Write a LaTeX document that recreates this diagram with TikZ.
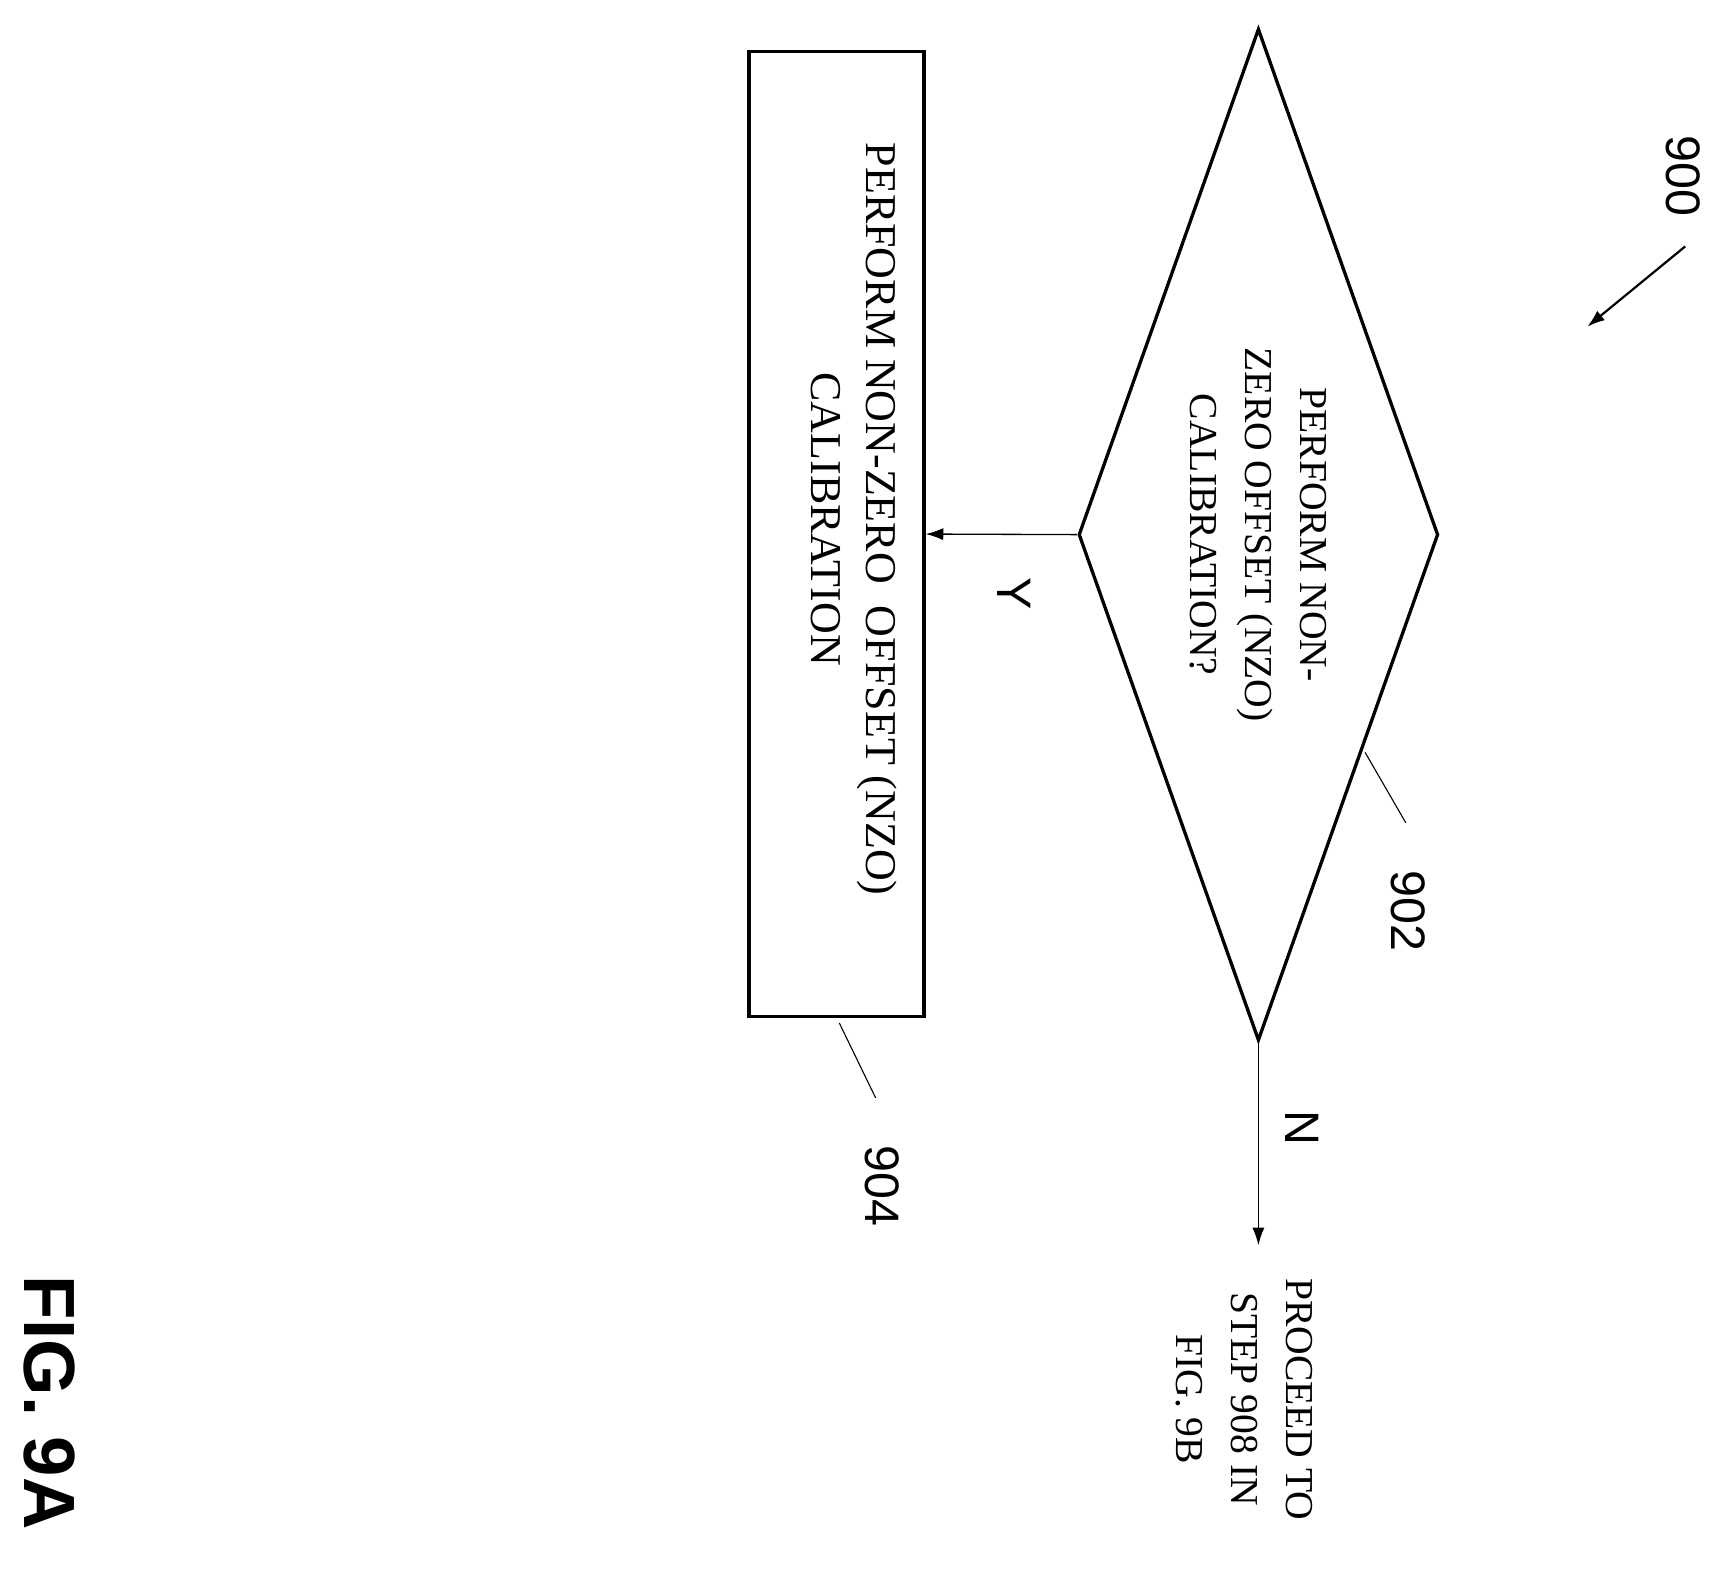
\documentclass[tikz,border=0pt]{standalone}
\usepackage{fontspec}
\setmainfont{Liberation Serif}
\newfontfamily\numfont{Liberation Sans}
\usetikzlibrary{shapes.geometric,arrows.meta}
\begin{document}
\begin{tikzpicture}
    [x=1pt, y=-1pt, line width=3pt,
    flowtext/.style={rotate=-90, align=center, font=\fontsize{36}{50}\selectfont},
    reftext/.style={rotate=-90, font=\numfont\fontsize{44}{50}\selectfont},
    leader/.style={line width=1pt},
    flowarrow/.style={line width=1.2pt, -{Latex[length=16pt,width=11pt]}}]
    \useasboundingbox (0,0) rectangle (1560,1428);
    \node[draw, diamond, aspect=0.3554, inner sep=0pt,
      minimum width=327pt, minimum height=920pt] (decide) at (1144,486) {};
    \node[flowtext] (decidetext) at (decide) {PERFORM NON-\\ZERO OFFSET (NZO)\\CALIBRATION?};
    \node[draw, minimum width=159pt, minimum height=877pt, inner sep=0pt] (calib) at (760.5,485.5) {};
    \node[flowtext, font=\fontsize{40}{50}\selectfont] (calibtext) at (776,472) {PERFORM NON-ZERO\ \ OFFSET (NZO)\\CALIBRATION};
    \draw[flowarrow] (decide.west) -- (calib.east);
    \node[reftext] (yes) at (922,540) {Y};
    \coordinate (nend) at (1144,1132);
    \draw[flowarrow] (decide.south) -- (nend);
    \node[reftext] (no) at (1184,1025) {N};
    \node[flowtext, anchor=north] (proceed) at (1198,1272) {PROCEED TO\\STEP 908 IN\\FIG. 9B};
    % reference numerals
    \node[reftext] (r902) at (1280,828) {902};
    \coordinate (l902) at (1241,684);
    \draw[leader] (l902) -- (1278,748);
    \node[reftext] (r904) at (802,1078) {904};
    \coordinate (l904) at (763,930);
    \draw[leader] (l904) -- (796,998);
    \node[reftext] (r900) at (1530,160) {900};
    \coordinate (a900) at (1532,224);
    \coordinate (b900) at (1443,297);
    \draw[flowarrow, line width=2pt] (a900) -- (b900);
    \node[rotate=-90, font=\numfont\bfseries\fontsize{66}{70}\selectfont] (fig) at (45,1275) {FIG. 9A};
\end{tikzpicture}
\end{document}
